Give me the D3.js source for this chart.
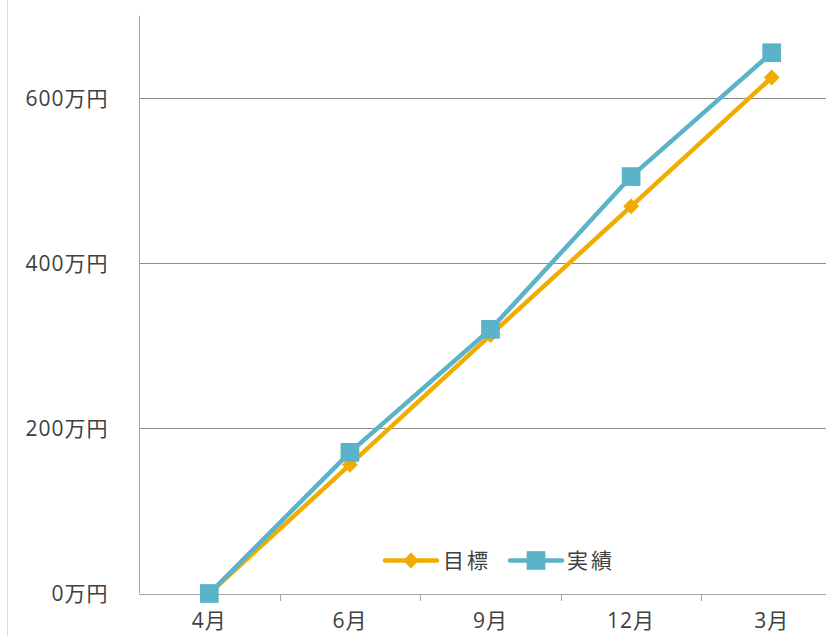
<!DOCTYPE html>
<html>
<head>
<meta charset="utf-8">
<script src="https://cdn.jsdelivr.net/npm/d3@7"></script>
<style>
  html, body { margin: 0; padding: 0; background: #fff; }
  svg { display: block; }
  text { font-family: "Open Sans", "Noto Sans CJK JP", sans-serif; fill: #404040; }
</style>
</head>
<body>
<svg id="chart" width="826" height="636"></svg>
<script>
// Monthly cumulative sales: target vs. actual (万円)
const months = ["4月", "6月", "9月", "12月", "3月"];
const targetValues = [0, 156, 313, 469, 625];
const actualValues = [0, 171, 320, 505, 655];
const yTicks = [0, 200, 400, 600];
const seriesNames = ["目標", "実績"];
const seriesColors = ["#f0ac00", "#5bb3ca"];

const svg = d3.select("#chart");
const W = 826, H = 636;

const plotLeft = 139, plotTop = 15.6, plotBottom = 593.5;
const band = 140.6;

const x = d3.scaleBand().domain(months).range([plotLeft, plotLeft + band * months.length]).padding(0);
const y = d3.scaleLinear().domain([0, 700]).range([plotBottom, plotTop]);

// outer frame edge on the left
svg.append("line")
  .attr("x1", 7.5).attr("x2", 7.5).attr("y1", 0).attr("y2", H)
  .attr("stroke", "#d9d9d9").attr("stroke-width", 1);

// horizontal gridlines
svg.append("g").selectAll("line")
  .data(yTicks.filter(d => d > 0))
  .join("line")
  .attr("x1", plotLeft).attr("x2", W)
  .attr("y1", d => Math.round(y(d)) + 0.5).attr("y2", d => Math.round(y(d)) + 0.5)
  .attr("stroke", "#8c8c8c").attr("stroke-width", 1);

// y axis
const yAxis = svg.append("g")
  .attr("transform", `translate(${plotLeft + 0.5},0)`)
  .call(d3.axisLeft(y).tickValues(yTicks).tickSize(0).tickPadding(31).tickFormat(d => d + "万円"));
yAxis.select(".domain").attr("stroke", "#a6a6a6").attr("d", `M0,${plotTop}V${plotBottom}`);
yAxis.selectAll("text").attr("font-size", 21).attr("letter-spacing", 1).attr("fill", "#404040").attr("dy", "0.35em");

// x axis
const xAxis = svg.append("g")
  .attr("transform", `translate(0,${Math.round(plotBottom) + 0.5})`)
  .call(d3.axisBottom(x).tickSize(0).tickPadding(19));
xAxis.select(".domain").attr("stroke", "#a6a6a6").attr("d", `M${plotLeft},0H${W}`);
xAxis.selectAll("text").attr("font-size", 21).attr("letter-spacing", 1).attr("fill", "#404040");

// boundary tick marks between categories
svg.append("g").selectAll("line")
  .data(months.slice(1))
  .join("line")
  .attr("x1", d => Math.round(x(d)) + 0.5).attr("x2", d => Math.round(x(d)) + 0.5)
  .attr("y1", Math.round(plotBottom)).attr("y2", Math.round(plotBottom) + 7)
  .attr("stroke", "#a6a6a6");

const cx = m => x(m) + x.bandwidth() / 2;
const line = d3.line().x((d, i) => cx(months[i])).y(d => y(d));

const diamond = d3.symbol().type(d3.symbolDiamond2).size(160);
const square = d3.symbol().type(d3.symbolSquare).size(350);

// target series
svg.append("path")
  .datum(targetValues)
  .attr("d", line).attr("fill", "none")
  .attr("stroke", seriesColors[0]).attr("stroke-width", 4.5).attr("stroke-linejoin", "round");
svg.append("g").selectAll("path")
  .data(targetValues)
  .join("path")
  .attr("d", diamond)
  .attr("transform", (d, i) => `translate(${cx(months[i])},${y(d)})`)
  .attr("fill", seriesColors[0]);

// actual series
svg.append("path")
  .datum(actualValues)
  .attr("d", line).attr("fill", "none")
  .attr("stroke", seriesColors[1]).attr("stroke-width", 4.5).attr("stroke-linejoin", "round");
svg.append("g").selectAll("path")
  .data(actualValues)
  .join("path")
  .attr("d", square)
  .attr("transform", (d, i) => `translate(${cx(months[i])},${y(d)})`)
  .attr("fill", seriesColors[1]);

// legend
const legendY = 560.5;
const legendItems = [
  { name: seriesNames[0], color: seriesColors[0], shape: diamond, x0: 385, tx: 443 },
  { name: seriesNames[1], color: seriesColors[1], shape: square, x0: 510, tx: 567 }
];
const lg = svg.append("g").selectAll("g").data(legendItems).join("g");
lg.append("line")
  .attr("x1", d => d.x0).attr("x2", d => d.x0 + 52)
  .attr("y1", legendY).attr("y2", legendY)
  .attr("stroke", d => d.color).attr("stroke-width", 4.5).attr("stroke-linecap", "round");
lg.append("path")
  .attr("d", d => d.shape())
  .attr("transform", d => `translate(${d.x0 + 26},${legendY})`)
  .attr("fill", d => d.color);
lg.append("text")
  .attr("x", d => d.tx).attr("y", legendY).attr("dy", "0.35em")
  .attr("font-size", 21).attr("letter-spacing", 3)
  .text(d => d.name);
</script>
</body>
</html>
